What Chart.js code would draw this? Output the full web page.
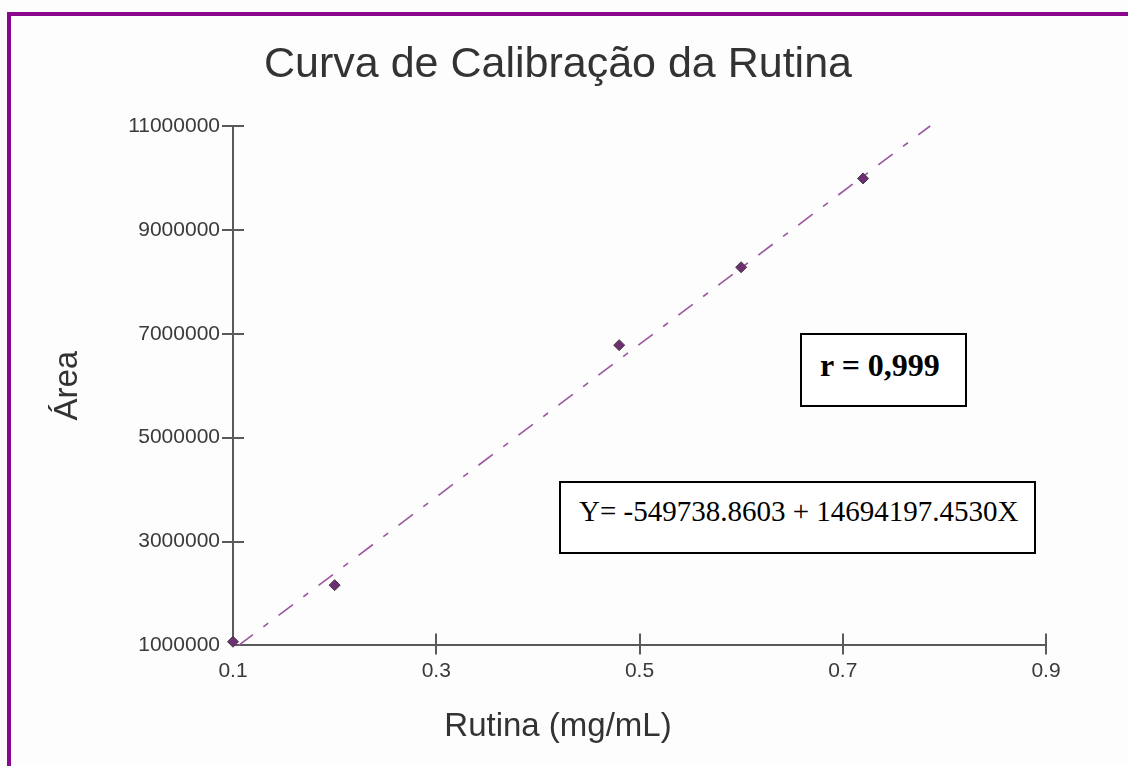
<!DOCTYPE html>
<html>
<head>
<meta charset="utf-8">
<script src="https://cdn.jsdelivr.net/npm/chart.js@4.4.1/dist/chart.umd.min.js"></script>
<style>
  html, body { margin: 0; padding: 0; background: #ffffff; }
  #wrap { position: relative; width: 1128px; height: 766px; overflow: hidden; background: #fdfdfd; }
  #c { position: absolute; left: 0; top: 0; }
  .frame { position: absolute; left: 7px; top: 12px; right: -20px; bottom: -20px;
           border-left: 4px solid #8b078b; border-top: 4px solid #8b078b; pointer-events: none; }
  .box { position: absolute; box-sizing: border-box; border: 2px solid #000; background: #fff;
         font-family: 'Liberation Serif', 'Times New Roman', serif; color: #000;
         display: flex; align-items: center; white-space: nowrap; }
  #rbox { left: 800px; top: 333px; width: 167px; height: 74px; font-weight: bold; font-size: 32px;
          padding-left: 18px; padding-bottom: 10px; }
  #eqbox { left: 559px; top: 481px; width: 477px; height: 73px; font-size: 29px;
           padding-left: 18px; padding-bottom: 13px; }
</style>
</head>
<body>
<div id="wrap">
  <canvas id="c" width="1128" height="766"></canvas>
  <div class="frame"></div>
  <div class="box" id="rbox">r = 0,999</div>
  <div class="box" id="eqbox">Y= -549738.8603 + 14694197.4530X</div>
</div>
<script>
// ---- data ----
const rutinaX = [0.1, 0.2, 0.48, 0.6, 0.72];
const areaY = [1070000, 2160000, 6780000, 8280000, 9990000];
const trendX = [0.1055, 0.786];
const trendY = [1000000, 11000000];
const xTicks = [0.1, 0.3, 0.5, 0.7, 0.9];
const xTickLabels = ['0.1', '0.3', '0.5', '0.7', '0.9'];
const yTicks = [1000000, 3000000, 5000000, 7000000, 9000000, 11000000];
const yTickLabels = ['1000000', '3000000', '5000000', '7000000', '9000000', '11000000'];
const chartTitle = 'Curva de Calibração da Rutina';
const xTitle = 'Rutina (mg/mL)';
const yTitle = 'Área';

const SANS = "'Liberation Sans', Arial, sans-serif";
const AXIS = '#5a5a5a';

// inner halves of the crossing tick marks
const innerTicks = {
  id: 'innerTicks',
  beforeDatasetsDraw(chart) {
    const { ctx, chartArea: ca, scales } = chart;
    ctx.save();
    ctx.strokeStyle = AXIS;
    ctx.lineWidth = 2;
    scales.x.ticks.forEach((t, i) => {
      if (i === 0) return;
      const px = Math.round(scales.x.getPixelForValue(t.value));
      ctx.beginPath(); ctx.moveTo(px, ca.bottom); ctx.lineTo(px, ca.bottom - 12); ctx.stroke();
    });
    scales.y.ticks.forEach((t, i) => {
      if (i === 0) return;
      const py = Math.round(scales.y.getPixelForValue(t.value));
      ctx.beginPath(); ctx.moveTo(ca.left, py); ctx.lineTo(ca.left + 11, py); ctx.stroke();
    });
    ctx.restore();
  }
};

const tickColor = c => (c.index === 0 ? 'rgba(0,0,0,0)' : AXIS);

new Chart(document.getElementById('c'), {
  type: 'scatter',
  data: {
    datasets: [
      {
        label: 'Tendência',
        data: trendX.map((x, i) => ({ x, y: trendY[i] })),
        showLine: true,
        borderColor: '#9a55a0',
        borderWidth: 1.6,
        borderDash: [18, 13, 6, 13],
        pointRadius: 0,
        clip: false,
        order: 2
      },
      {
        label: 'Rutina',
        data: rutinaX.map((x, i) => ({ x, y: areaY[i] })),
        pointStyle: 'rectRot',
        pointRadius: 5.5,
        backgroundColor: '#6e2f70',
        borderColor: '#453a45',
        borderWidth: 1,
        clip: false,
        order: 1
      }
    ]
  },
  options: {
    responsive: false,
    animation: false,
    devicePixelRatio: 1,
    layout: { padding: { left: 0, right: 12, top: 0, bottom: 0 } },
    plugins: {
      legend: { display: false },
      tooltip: { enabled: false },
      title: {
        display: true, text: chartTitle, color: '#333',
        font: { family: SANS, size: 43, weight: 'normal', lineHeight: 1.2 },
        padding: { top: 39, bottom: 35.4 }
      },
      subtitle: {
        display: true, position: 'bottom', text: xTitle, color: '#333',
        font: { family: SANS, size: 33, weight: 'normal', lineHeight: 1.2 },
        padding: { top: 0, bottom: 19 }
      }
    },
    scales: {
      x: {
        type: 'linear', min: 0.1, max: 0.9,
        afterBuildTicks: s => { s.ticks = xTicks.map(v => ({ value: v })); },
        afterFit: s => { s.height = 62; },
        border: { display: true, color: AXIS, width: 2 },
        grid: { display: true, drawOnChartArea: false, drawTicks: true, tickLength: 9, color: tickColor, lineWidth: 2 },
        ticks: { color: '#3a3a3a', padding: 4, maxRotation: 0, font: { family: SANS, size: 21 },
                 callback: (v, i) => xTickLabels[i] }
      },
      y: {
        type: 'linear', min: 1000000, max: 11000000,
        afterBuildTicks: s => { s.ticks = yTicks.map(v => ({ value: v })); },
        afterFit: s => { s.width = 233; },
        border: { display: true, color: AXIS, width: 2 },
        grid: { display: true, drawOnChartArea: false, drawTicks: true, tickLength: 11, color: tickColor, lineWidth: 2 },
        ticks: { color: '#3a3a3a', padding: 2, font: { family: SANS, size: 21 },
                 callback: (v, i) => yTickLabels[i] },
        title: { display: true, text: yTitle, color: '#333',
                 font: { family: SANS, size: 33, weight: 'normal', lineHeight: 1.2 },
                 padding: { top: 48, bottom: 0 } }
      },
      yRight: {
        axis: 'y', position: 'right', display: true,
        grid: { display: false }, border: { display: false }, ticks: { display: false },
        afterFit: s => { s.width = 70; }
      }
    }
  },
  plugins: [innerTicks]
});
</script>
</body>
</html>
